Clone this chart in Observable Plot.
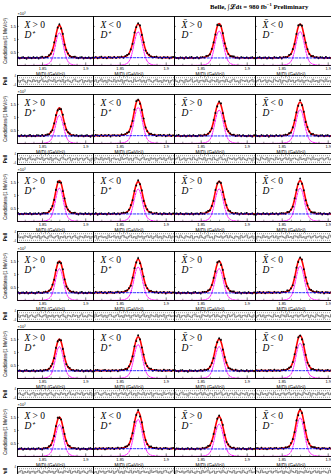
<!DOCTYPE html>
<html><head><meta charset="utf-8">
<script src="https://cdn.jsdelivr.net/npm/d3@7"></script>
<script src="https://cdn.jsdelivr.net/npm/@observablehq/plot@0.6"></script>
<style>
body{margin:0;background:#fff;}
#c{position:relative;width:331px;height:474px;overflow:hidden;background:#fff;}
#c svg{position:absolute;overflow:visible;background:transparent;}
.title{position:absolute;top:0px;left:210px;font:bold 6.8px "Liberation Serif";white-space:nowrap;line-height:9px;}
</style></head><body><div id="c"><div class="title">Belle, ∫ℒdt = 980 fb<sup style="font-size:4.5px">−1</sup> Preliminary</div></div>
<script>
// ---- data ----
const massBins = d3.range(44).map(k => +(1.8215 + 0.002 * k).toFixed(4)); // GeV/c^2 bin centres
const labelTop = ["X", "X", "X̄", "X̄"];
const labelSign = ["> 0", "< 0", "> 0", "< 0"];
const labelMeson = ["D⁺", "D⁺", "D⁻", "D⁻"];
const xTicks = [1.85, 1.9];
const yTicks = [0.5, 1, 1.5];
// normalised signal profile per bin (peak = 1)
const signalShape = [0.002,0.002,0.002,0.002,0.002,0.002,0.002,0.002,0.003,0.003,0.003,0.004,
 0.005,0.006,0.009,0.014,0.022,0.037,0.065,0.12,0.24,0.44,0.70,0.92,1.0,0.92,0.70,0.44,0.24,0.12,
 0.065,0.037,0.022,0.014,0.009,0.006,0.005,0.004,0.003,0.003,0.003,0.002,0.002,0.002];
// signal peak height above background (x10^3), rows x columns
const peakAmp = [
  [1.25, 1.29, 1.32, 1.30],
  [1.08, 1.38, 1.28, 1.30],
  [1.28, 1.24, 1.25, 1.28],
  [1.22, 1.28, 1.22, 1.32],
  [1.22, 1.30, 1.22, 1.35],
  [1.22, 1.42, 1.24, 1.48]
];
// flat background level (x10^3)
const bkgLevel = [
  [0.29, 0.30, 0.29, 0.29],
  [0.29, 0.30, 0.29, 0.29],
  [0.29, 0.29, 0.29, 0.29],
  [0.29, 0.30, 0.29, 0.30],
  [0.29, 0.30, 0.29, 0.30],
  [0.29, 0.30, 0.29, 0.30]
];
// pull values per bin, one list per column
const pullCol0 = [0.8,-1.2,0.4,1.5,-0.6,-1.8,0.9,0.2,-0.9,1.3,-0.3,0.7,-1.5,0.5,1.9,-0.8,0.1,-1.1,1.2,0.6,-0.4,1.6,-1.3,0.3,0.9,-0.7,1.4,-1.6,0.2,1.1,-0.5,-1.4,0.8,1.7,-0.2,-1.0,0.6,1.3,-1.7,0.4,-0.6,1.0,-1.2,0.5];
const pullCol1 = [-0.5,1.1,-1.4,0.3,1.8,-0.9,0.6,-1.6,1.2,0.1,-0.7,1.5,-1.1,0.8,-0.3,1.3,-1.9,0.4,1.0,-0.6,0.2,-1.3,1.7,-0.4,0.5,1.2,-1.0,0.7,-1.5,0.9,1.4,-0.2,-1.2,0.6,1.6,-0.8,0.3,-1.4,1.1,-0.1,0.9,-1.7,0.4,1.2];
const pullCol2 = [1.2,-0.4,-1.3,0.9,0.3,-1.7,1.4,-0.6,0.7,1.8,-1.1,-0.2,1.0,-1.5,0.5,0.8,-0.9,1.6,-0.3,-1.2,1.1,0.4,-0.8,1.3,-1.6,0.2,0.6,-1.0,1.5,-0.5,-1.3,0.9,1.7,-0.7,0.1,-1.8,1.2,0.5,-0.4,1.0,-1.1,0.3,1.4,-0.9];
const pullCol3 = [-1.0,0.6,1.4,-0.8,0.2,1.1,-1.5,0.9,-0.3,-1.2,1.7,0.4,-0.6,1.3,-1.9,0.7,0.1,-1.0,1.5,-0.4,0.8,-1.4,0.3,1.2,-0.7,1.0,-1.6,0.5,0.9,-0.2,-1.1,1.6,-0.5,0.4,-1.3,1.1,0.7,-0.9,1.8,-0.6,0.2,-1.4,0.6,1.0];
const pulls = [pullCol0, pullCol1, pullCol2, pullCol3];

// ---- layout ----
const colLeft = [17, 93, 174, 255];
const colW = [76, 81, 81, 81];
const rowTop0 = 16, rowPitch = 78.2, mainH = 49, pullOff = 59, pullH = 11;
const xDom = [1.821, 1.909];
const minorX = [1.83, 1.84, 1.86, 1.87, 1.88, 1.89];
const container = document.getElementById("c");
const baseStyle = {fontFamily: "Liberation Sans", fontSize: "4px", background: "transparent", overflow: "visible"};

function place(svg, left, top) {
  svg.style.left = left + "px";
  svg.style.top = top + "px";
  container.appendChild(svg);
}

for (let r = 0; r < 6; r++) {
  for (let c = 0; c < 4; c++) {
    const pv = pulls[c];
    const rows = massBins.map((m, k) => {
      const sig = peakAmp[r][c] * signalShape[k];
      const bkg = bkgLevel[r][c];
      const fit = bkg + sig;
      const err = Math.sqrt(fit * 1000) / 1000;
      const p = pv[(k + r * 7) % pv.length];
      const data = fit + p * err;
      return {m, sig, bkg, fit, data, lo: data - err, hi: data + err, pull: p};
    });
    const ML = c === 0 ? 17 : 0;
    const top = rowTop0 + r * rowPitch;
    const MT = 6, MB = 12;
    const marks = [
      Plot.line(rows, {x: "m", y: "fit", stroke: "#ff0000", strokeWidth: 1.6, curve: "monotone-x"}),
      Plot.line(rows, {x: "m", y: "sig", stroke: "#ff00ff", strokeWidth: 1, strokeDasharray: "1.4,1.2", curve: "monotone-x"}),
      Plot.ruleX(rows, {x: "m", y1: "lo", y2: "hi", stroke: "black", strokeWidth: 0.5}),
      Plot.dot(rows, {x: "m", y: "data", r: 0.95, fill: "black", stroke: "none"}),
      Plot.line(rows, {x: "m", y: "bkg", stroke: "#0000ff", strokeWidth: 0.9, strokeDasharray: "2,1.6"}),
      Plot.ruleX(xTicks, {x: d => d, y1: 0, y2: 0.1, stroke: "black", strokeWidth: 0.5}),
      Plot.ruleX(minorX, {x: d => d, y1: 0, y2: 0.05, stroke: "black", strokeWidth: 0.4}),
      Plot.ruleY(yTicks, {y: d => d, x1: xDom[0], x2: xDom[0] + 0.002, stroke: "black", strokeWidth: 0.5}),
      Plot.frame({stroke: "black", strokeWidth: 0.9}),
      Plot.axisX({ticks: xTicks, tickSize: 0, tickPadding: 1.5, fontSize: 4, tickFormat: d => String(d), label: null}),
      Plot.text(["M(D) (GeV/c²)"], {frameAnchor: "bottom", dx: -5, dy: 7, lineAnchor: "top", fontSize: 4.6}),
      Plot.text([labelTop[c]], {frameAnchor: "top-left", dx: 7, dy: 11, lineAnchor: "bottom", fontFamily: "Liberation Serif", fontStyle: "italic", fontSize: 9.5}),
      Plot.text([labelSign[c]], {frameAnchor: "top-left", dx: 15, dy: 11, lineAnchor: "bottom", fontFamily: "Liberation Serif", fontSize: 9.5}),
      Plot.text([labelMeson[c]], {frameAnchor: "top-left", dx: 7, dy: 21.5, lineAnchor: "bottom", fontFamily: "Liberation Serif", fontStyle: "italic", fontSize: 9.5})
    ];
    if (c === 0) {
      marks.push(
        Plot.axisY({ticks: yTicks, tickSize: 0, tickPadding: 1.5, fontSize: 4, tickFormat: d => String(d), label: null}),
        Plot.text(["×10³"], {frameAnchor: "top-left", dx: 0, dy: -1.5, lineAnchor: "bottom", fontSize: 4}),
        Plot.text(["Candidates/(1 MeV/c²)"], {frameAnchor: "left", dx: -12, rotate: -90, textAnchor: "middle", fontSize: 4.6})
      );
    }
    const main = Plot.plot({
      width: colW[c] + ML, height: mainH + MT + MB,
      marginLeft: ML, marginRight: 0, marginTop: MT, marginBottom: MB,
      x: {domain: xDom, axis: null}, y: {domain: [0, 1.88], axis: null},
      style: baseStyle,
      marks
    });
    place(main, colLeft[c] - ML, top - MT);

    // pull panel
    const pmarks = [
      Plot.ruleY([-3, 3], {stroke: "#333", strokeWidth: 0.5, strokeDasharray: "1,1"}),
      Plot.ruleY([0], {stroke: "#333", strokeWidth: 0.5, strokeDasharray: "1.5,1"}),
      Plot.line(rows, {x: "m", y: "pull", stroke: "#555", strokeWidth: 0.6, curve: "step"}),
      Plot.frame({stroke: "black", strokeWidth: 0.9})
    ];
    if (c === 0) {
      pmarks.push(
        Plot.axisY({ticks: [-4, 4], tickSize: 0, tickPadding: 1.5, fontSize: 2.6, label: null}),
        Plot.text(["Pull"], {frameAnchor: "left", dx: -12, rotate: -90, textAnchor: "middle", fontSize: 4.6, fontWeight: "bold"})
      );
    }
    const pull = Plot.plot({
      width: colW[c] + ML, height: pullH,
      marginLeft: ML, marginRight: 0, marginTop: 0, marginBottom: 0,
      x: {domain: xDom, axis: null}, y: {domain: [-5, 5], axis: null},
      style: baseStyle,
      marks: pmarks
    });
    place(pull, colLeft[c] - ML, top + pullOff);
  }
}
</script></body></html>
